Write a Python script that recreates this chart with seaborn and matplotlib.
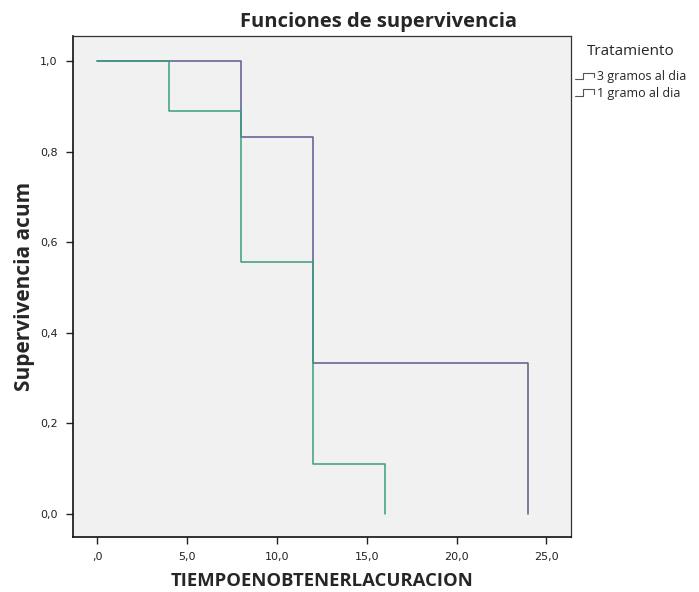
import matplotlib
matplotlib.use("Agg")
import matplotlib.pyplot as plt
import seaborn as sns
import pandas as pd
from matplotlib.lines import Line2D
from matplotlib.legend_handler import HandlerBase

# data
groups = ["3 gramos al dia", "1 gramo al dia"]
time_3g = [0, 8, 12, 24]
surv_3g = [1.0, 0.833, 0.333, 0.0]
time_1g = [0, 4, 8, 12, 16]
surv_1g = [1.0, 0.889, 0.556, 0.111, 0.0]
xticks = [0, 5, 10, 15, 20, 25]
xticklabels = [",0", "5,0", "10,0", "15,0", "20,0", "25,0"]
yticks = [0.0, 0.2, 0.4, 0.6, 0.8, 1.0]
yticklabels = ["0,0", "0,2", "0,4", "0,6", "0,8", "1,0"]

df = pd.DataFrame({
    "t": time_3g + time_1g,
    "s": surv_3g + surv_1g,
    "g": [groups[0]] * len(time_3g) + [groups[1]] * len(time_1g),
})

sns.set_style("white")
plt.rcParams['font.family'] = ['DejaVu Sans']
colors = {groups[0]: "#5a5a8e", groups[1]: "#3c9c82"}

fig = plt.figure(figsize=(6.99, 5.92), dpi=100)
ax = fig.add_axes([73/699, 1-537/592, (571-73)/699, (537-36)/592])
ax.set_facecolor("#f1f1f1")

sns.lineplot(data=df, x="t", y="s", hue="g", hue_order=groups, palette=colors,
             drawstyle="steps-post", estimator=None, sort=False, lw=1.1,
             legend=False, ax=ax)

ax.set_xlim(-1.35, 26.37)
ax.set_ylim(-0.051, 1.055)
ax.set_xticks(xticks)
ax.set_xticklabels(xticklabels)
ax.set_yticks(yticks)
ax.set_yticklabels(yticklabels)
ax.tick_params(axis="both", which="major", direction="out", length=5, width=1,
               labelsize=8, colors="#222222", bottom=True, left=True, pad=6)
for side in ["left", "bottom"]:
    ax.spines[side].set_color("#111111")
    ax.spines[side].set_linewidth(1.2)
for side in ["top", "right"]:
    ax.spines[side].set_color("#333333")
    ax.spines[side].set_linewidth(0.9)

ax.set_xlabel("TIEMPOENOBTENERLACURACION", fontsize=13.3, fontweight="bold",
              family="Open Sans", labelpad=7)
ax.set_ylabel("Supervivencia acum", fontsize=15, fontweight="bold",
              family="Open Sans", labelpad=4)
fig.text(378/699, 1-22/592, "Funciones de supervivencia", ha="center", va="center",
         fontsize=14.5, fontweight="bold", family="Open Sans")


class StepHandler(HandlerBase):
    def create_artists(self, legend, orig_handle, xdescent, ydescent, width,
                       height, fontsize, trans):
        x0 = -xdescent
        y0 = -ydescent
        xs = [x0, x0 + 0.45*width, x0 + 0.45*width, x0 + width, x0 + width]
        ys = [y0 + 0.15*height, y0 + 0.15*height, y0 + 0.85*height,
              y0 + 0.85*height, y0 + 0.35*height]
        ln = Line2D(xs, ys, color="#555555", lw=0.8, transform=trans)
        return [ln]

handles = [Line2D([], [], color=colors[g]) for g in groups]
leg = fig.legend(handles, groups, title="Tratamiento", loc="upper left",
                 bbox_to_anchor=(570/699, 1-39/592), frameon=False,
                 fontsize=9, title_fontsize=11, handlelength=1.5,
                 handletextpad=0.25, labelspacing=0.3, borderaxespad=0,
                 handler_map={Line2D: StepHandler()})
leg._legend_box.sep = 8
leg.get_title().set_family("Open Sans")
for t in leg.get_texts():
    t.set_family("Open Sans")

fig.savefig("out.png", dpi=100, facecolor="white")
